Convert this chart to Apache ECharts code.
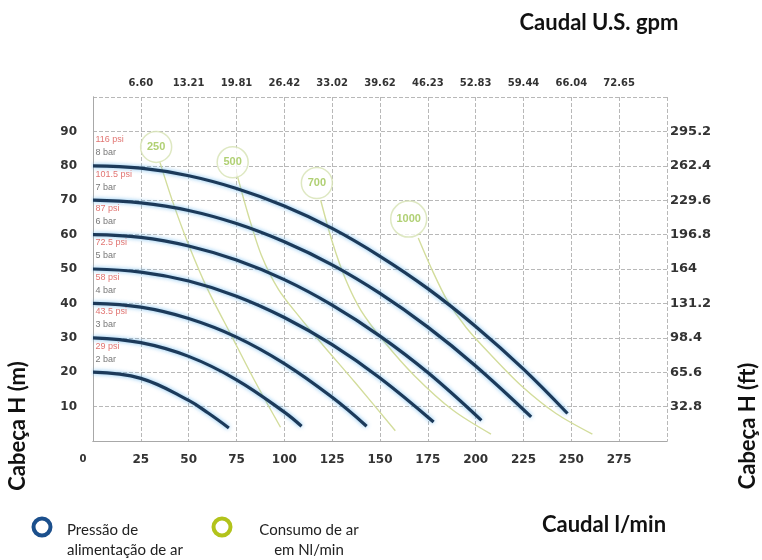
<!DOCTYPE html>
<html>
<head>
<meta charset="utf-8">
<script src="https://cdn.jsdelivr.net/npm/echarts@6/dist/echarts.min.js"></script>
<style>
html, body { margin: 0; padding: 0; background: #fff; }
#chart { width: 762px; height: 560px; }
</style>
</head>
<body>
<div id="chart"></div>
<script>
// tick labels
const gpmLabels = ['6.60', '13.21', '19.81', '26.42', '33.02', '39.62', '46.23', '52.83', '59.44', '66.04', '72.65']
const ftLabels = ['32.8', '65.6', '98.4', '131.2', '164', '196.8', '229.6', '262.4', '295.2']

// pressure curves [l/min, m]
const barNames = ['2 bar', '3 bar', '4 bar', '5 bar', '6 bar', '7 bar', '8 bar']
const psiNames = ['29 psi', '43.5 psi', '58 psi', '72.5 psi', '87 psi', '101.5 psi', '116 psi']
const curve2 = [[0, 20], [25, 18.2], [50, 11.8], [60, 8.2], [71, 3.8]]
const curve3 = [[0, 30], [25, 28.6], [50, 24.6], [75, 17.8], [100, 8.4], [109, 4.3]]
const curve4 = [[0, 40], [25, 38.9], [50, 35.6], [75, 30.2], [100, 22.5], [125, 12.7], [143, 4.3]]
const curve5 = [[0, 50], [25, 49.1], [50, 46.5], [75, 42.1], [100, 35.9], [125, 28], [150, 18.3], [178, 5.5]]
const curve6 = [[0, 60], [25, 59.2], [50, 56.7], [75, 52.6], [100, 46.9], [125, 39.5], [150, 30.5], [175, 19.9], [203, 6]]
const curve7 = [[0, 70], [25, 69.2], [50, 67], [75, 63.2], [100, 57.9], [125, 51.2], [150, 42.9], [175, 33.1], [200, 21.8], [229, 7]]
const curve8 = [[0, 80], [25, 79.3], [50, 77.1], [75, 73.4], [100, 68.3], [125, 61.8], [150, 53.7], [175, 44.3], [200, 33.3], [225, 20.9], [248, 8]]

// air consumption lines (Nl/min)
const airNames = ['250', '500', '700', '1000']
const air250 = [[35, 81], [42, 69], [50, 57], [60, 44], [72, 31], [85, 17], [98, 4]]
const air500 = [[75, 78], [81, 66], [88, 54], [97, 44], [108, 36], [120, 28], [137, 17], [158, 3]]
const air700 = [[119, 70], [125, 58], [132, 47], [140, 38], [152, 29], [168, 19], [188, 9], [208, 2]]
const air1000 = [[170, 59], [177, 50], [185, 41], [195, 33], [208, 25], [224, 16], [242, 8], [261, 2]]
const airBadges = [[33, 85.5], [73, 81], [117, 75], [165, 64.5]]

const pressureCurves = [curve2, curve3, curve4, curve5, curve6, curve7, curve8]
const airLines = [air250, air500, air700, air1000]

const BLUE = '#1c3a5a'
const GREEN_LINE = '#d3dd9c'
const GRID_LINE = { show: true, lineStyle: { color: '#b8b8b8', type: 'dashed', width: 1 } }
const AXIS_LINE = { show: true, lineStyle: { color: '#a8a8a8', width: 1 } }
const TICK_FONT = { fontFamily: 'DejaVu Sans, sans-serif', fontWeight: 'bold', fontSize: 12, color: '#333' }
const TITLE_FONT = 'bold 22px Lato, sans-serif'
const LEGEND_FONT = '15px Lato, sans-serif'

const series = []

airLines.forEach((data, i) => {
  series.push({
    name: 'air ' + airNames[i],
    type: 'line',
    data,
    smooth: 0.3,
    symbol: 'none',
    z: 2,
    lineStyle: { color: GREEN_LINE, width: 1.4 }
  })
})

pressureCurves.forEach((data, i) => {
  series.push({
    name: barNames[i],
    type: 'line',
    data,
    smooth: 0.4,
    symbol: 'none',
    z: 3,
    lineStyle: {
      color: BLUE,
      width: 3.2,
      shadowColor: 'rgba(90,175,235,0.8)',
      shadowBlur: 4
    }
  })
})

// psi / bar labels at the start of each curve
series.push({
  type: 'scatter',
  symbolSize: 1,
  z: 5,
  itemStyle: { color: 'transparent' },
  data: pressureCurves.map((c, i) => [0, c[0][1] + 7.6, psiNames[i]]),
  label: {
    show: true, position: 'right', distance: 2,
    formatter: p => p.data[2],
    fontFamily: 'Liberation Sans, Arial, sans-serif', fontSize: 9, color: '#d9534f'
  }
})
series.push({
  type: 'scatter',
  symbolSize: 1,
  z: 5,
  itemStyle: { color: 'transparent' },
  data: pressureCurves.map((c, i) => [0, c[0][1] + 3.8, barNames[i]]),
  label: {
    show: true, position: 'right', distance: 2,
    formatter: p => p.data[2],
    fontFamily: 'Liberation Sans, Arial, sans-serif', fontSize: 9, color: '#555'
  }
})

// air consumption badges
series.push({
  type: 'scatter',
  z: 6,
  symbolSize: (v, p) => (airNames[p.dataIndex].length > 3 ? 36 : 31),
  itemStyle: { color: 'rgba(255,255,255,0.95)', borderColor: '#d6e2b3', borderWidth: 1.5 },
  data: airBadges.map((b, i) => [b[0], b[1], airNames[i]]),
  label: {
    show: true, position: 'inside',
    formatter: p => p.data[2],
    fontFamily: 'Liberation Sans, Arial, sans-serif', fontSize: 11, fontWeight: 'bold', color: '#9cc450'
  }
})

const option = {
  animation: false,
  backgroundColor: '#fff',
  grid: { left: 93, right: 95, top: 97, bottom: 119 },
  xAxis: [
    {
      type: 'value', min: 0, max: 300, interval: 25, position: 'bottom',
      axisLine: AXIS_LINE, axisTick: { show: false }, splitLine: GRID_LINE,
      axisLabel: {
        ...TICK_FONT, margin: 13,
        formatter: v => (v === 0 ? '{z|0}' : v === 300 ? '' : String(v)),
        rich: { z: { padding: [0, 20, 0, 0], fontSize: 10, fontFamily: 'DejaVu Sans, sans-serif', color: '#333' } }
      }
    },
    {
      type: 'value', min: 0, max: 300, interval: 25, position: 'top',
      axisLine: AXIS_LINE, axisTick: { show: false }, splitLine: { show: false },
      axisLabel: {
        ...TICK_FONT, fontSize: 10, margin: 9,
        formatter: v => (v > 0 && v < 300 ? gpmLabels[v / 25 - 1] : '')
      }
    }
  ],
  yAxis: [
    {
      type: 'value', min: 0, max: 100, interval: 10, position: 'left',
      axisLine: AXIS_LINE, axisTick: { show: false }, splitLine: GRID_LINE,
      axisLabel: {
        ...TICK_FONT, margin: 16,
        formatter: v => (v > 0 && v < 100 ? String(v) : '')
      }
    },
    {
      type: 'value', min: 0, max: 100, interval: 10, position: 'right',
      axisLine: AXIS_LINE, axisTick: { show: false }, splitLine: { show: false },
      axisLabel: {
        ...TICK_FONT, fontSize: 13, margin: 3,
        formatter: v => (v > 0 && v < 100 ? ftLabels[v / 10 - 1] : '')
      }
    }
  ],
  graphic: [
    { type: 'text', x: 599, y: 23, style: { text: 'Caudal U.S. gpm', align: 'center', verticalAlign: 'middle', font: TITLE_FONT, fill: '#111' } },
    { type: 'text', x: 604, y: 525, style: { text: 'Caudal l/min', align: 'center', verticalAlign: 'middle', font: TITLE_FONT, fill: '#111' } },
    { type: 'text', x: 18, y: 426, rotation: Math.PI / 2, style: { text: 'Cabeça H (m)', align: 'center', verticalAlign: 'middle', font: TITLE_FONT, fill: '#111' } },
    { type: 'text', x: 748, y: 426, rotation: Math.PI / 2, style: { text: 'Cabeça H (ft)', align: 'center', verticalAlign: 'middle', font: TITLE_FONT, fill: '#111' } },
    { type: 'circle', shape: { cx: 42, cy: 527, r: 8.5 }, style: { fill: 'none', stroke: '#1b4f8c', lineWidth: 4 } },
    { type: 'circle', shape: { cx: 222, cy: 527, r: 8.5 }, style: { fill: 'none', stroke: '#b2c31b', lineWidth: 4 } },
    { type: 'text', x: 67, y: 530, style: { text: 'Pressão de', align: 'left', verticalAlign: 'middle', font: LEGEND_FONT, fill: '#222' } },
    { type: 'text', x: 67, y: 550, style: { text: 'alimentação de ar', align: 'left', verticalAlign: 'middle', font: LEGEND_FONT, fill: '#222' } },
    { type: 'text', x: 309, y: 530, style: { text: 'Consumo de ar', align: 'center', verticalAlign: 'middle', font: LEGEND_FONT, fill: '#222' } },
    { type: 'text', x: 309, y: 550, style: { text: 'em Nl/min', align: 'center', verticalAlign: 'middle', font: LEGEND_FONT, fill: '#222' } }
  ],
  series
}

const chart = echarts.init(document.getElementById('chart'))
chart.setOption(option)
</script>
</body>
</html>
